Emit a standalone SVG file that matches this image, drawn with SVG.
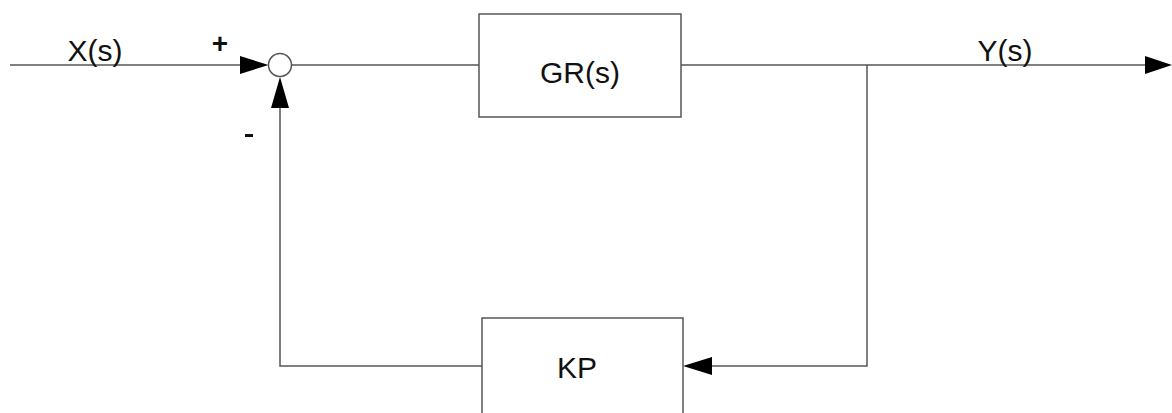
<svg xmlns="http://www.w3.org/2000/svg" width="1172" height="413" viewBox="0 0 1172 413">
  <defs>
    <style>
      .wire { fill: none; stroke: #555; stroke-width: 1.5; }
      .block { fill: #fff; stroke: #555; stroke-width: 1.5; }
      .lbl { font-family: "Liberation Sans", Arial, sans-serif; font-size: 30px; fill: #111; }
      .sign { font-family: "Liberation Sans", Arial, sans-serif; font-size: 28px; font-weight: bold; fill: #111; }
      .head { fill: #000; }
    </style>
  </defs>
  <rect width="1172" height="413" fill="#fff"/>

  <!-- signal lines -->
  <g id="connectors">
    <line class="wire" x1="10" y1="65" x2="244" y2="65"/>
    <line class="wire" x1="291.5" y1="65" x2="479" y2="65"/>
    <line class="wire" x1="681" y1="65" x2="1148" y2="65"/>
    <polyline class="wire" points="867,65 867,366 710,366"/>
    <polyline class="wire" points="482,366 280,366 280,104"/>
    <!-- arrowheads -->
    <polygon class="head" points="240,56 268.5,65 240,74"/>
    <polygon class="head" points="271,108 280,77 289,108"/>
    <polygon class="head" points="1145,56 1172,65 1145,74"/>
    <polygon class="head" points="712,357 683,366 712,375"/>
  </g>

  <g id="summing-junction">
    <circle cx="280" cy="65" r="11.5" fill="#fff" stroke="#555" stroke-width="1.5"/>
    <text class="sign" x="220" y="53" text-anchor="middle">+</text>
    <rect x="245" y="134" width="8" height="3" fill="#111"/>
  </g>

  <g id="plant">
    <rect class="block" x="479" y="14" width="202" height="103"/>
    <text class="lbl" x="580" y="83" text-anchor="middle">GR(s)</text>
  </g>

  <g id="feedback">
    <rect class="block" x="482" y="318" width="201" height="110"/>
    <text class="lbl" x="577" y="378" text-anchor="middle">KP</text>
  </g>

  <g id="input-label">
    <text class="lbl" x="95" y="61" text-anchor="middle">X(s)</text>
  </g>
  <g id="output-label">
    <text class="lbl" x="1005" y="61" text-anchor="middle">Y(s)</text>
  </g>
</svg>
